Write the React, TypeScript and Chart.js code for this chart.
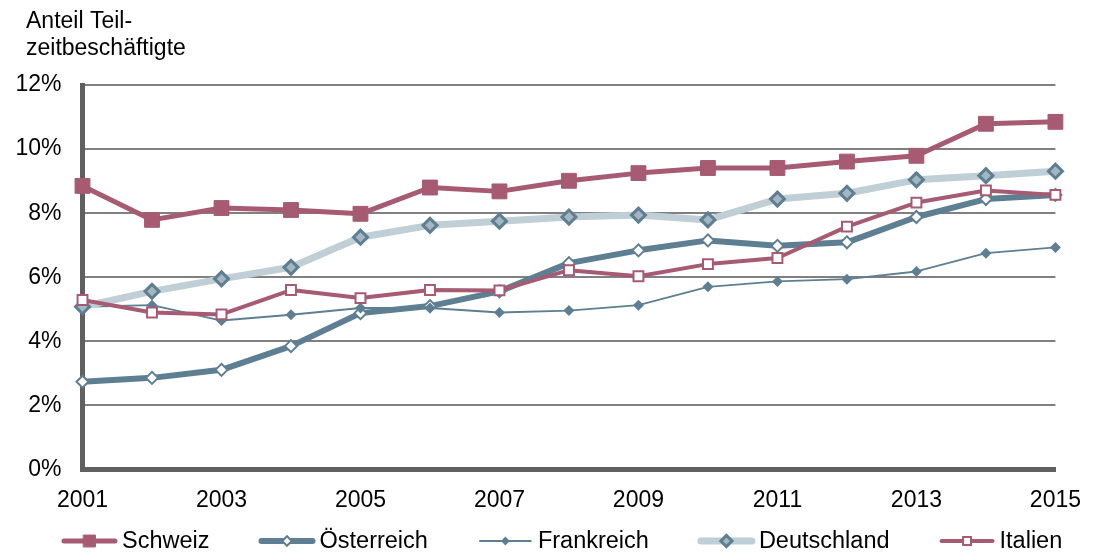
import React, { useEffect, useRef } from "react";
import { Chart, registerables } from "chart.js";

Chart.register(...registerables);

const years = ["2001", "2002", "2003", "2004", "2005", "2006", "2007", "2008", "2009", "2010", "2011", "2012", "2013", "2014", "2015"];
const seriesNames = ["Schweiz", "Österreich", "Frankreich", "Deutschland", "Italien"];
const schweiz = [8.85, 7.79, 8.16, 8.1, 7.98, 8.8, 8.68, 9.01, 9.25, 9.41, 9.41, 9.61, 9.79, 10.79, 10.85];
const oesterreich = [2.74, 2.86, 3.11, 3.85, 4.88, 5.1, 5.56, 6.44, 6.84, 7.15, 6.98, 7.09, 7.88, 8.44, 8.57];
const frankreich = [5.08, 5.13, 4.65, 4.83, 5.04, 5.04, 4.9, 4.96, 5.13, 5.7, 5.87, 5.94, 6.18, 6.75, 6.93];
const deutschland = [5.08, 5.56, 5.95, 6.31, 7.25, 7.62, 7.75, 7.88, 7.94, 7.79, 8.44, 8.62, 9.04, 9.17, 9.31];
const italien = [5.29, 4.9, 4.84, 5.6, 5.35, 5.6, 5.59, 6.22, 6.03, 6.41, 6.6, 7.58, 8.33, 8.71, 8.57];
const titleLines = ["Anteil Teil-", "zeitbeschäftigte"];

const FONT = '"Liberation Sans", Arial, sans-serif';
const MAUVE = "#A65B73";
const SLATE = "#5E7F92";
const LIGHT = "#C0CED6";
const DE_FILL = "#A3B6C2";

function drawMarker(
  ctx: CanvasRenderingContext2D,
  style: string,
  x: number,
  y: number,
  r: number,
  fill: string,
  stroke: string,
  bw: number
) {
  ctx.beginPath();
  if (style === "rect") {
    const s = Math.SQRT1_2 * r;
    ctx.rect(x - s, y - s, 2 * s, 2 * s);
  } else {
    ctx.moveTo(x - r, y);
    ctx.lineTo(x, y - r);
    ctx.lineTo(x + r, y);
    ctx.lineTo(x, y + r);
    ctx.closePath();
  }
  ctx.fillStyle = fill;
  ctx.fill();
  if (bw > 0) {
    ctx.lineWidth = bw;
    ctx.strokeStyle = stroke;
    ctx.stroke();
  }
}

const decorPlugin = {
  id: "decor",
  afterDraw(chart: any) {
    const ctx: CanvasRenderingContext2D = chart.ctx;
    ctx.save();
    ctx.font = `23px ${FONT}`;
    ctx.fillStyle = "#000";
    ctx.textAlign = "left";
    ctx.textBaseline = "alphabetic";
    ctx.fillText(titleLines[0], 26, 28);
    ctx.fillText(titleLines[1], 26, 55);

    // legend
    ctx.font = `23.5px ${FONT}`;
    const y = 541;
    const lineLen = 55;
    let x = 62;
    chart.data.datasets.forEach((ds: any) => {
      ctx.beginPath();
      ctx.lineWidth = ds.borderWidth;
      ctx.strokeStyle = ds.borderColor;
      ctx.lineCap = "round";
      ctx.moveTo(x + 2, y);
      ctx.lineTo(x + lineLen - 2, y);
      ctx.stroke();
      drawMarker(
        ctx,
        ds.pointStyle,
        x + lineLen / 2,
        y,
        ds.pointRadius * 0.8,
        ds.pointBackgroundColor,
        ds.pointBorderColor,
        ds.pointBorderWidth
      );
      ctx.fillStyle = "#000";
      ctx.textBaseline = "middle";
      ctx.fillText(ds.label, x + lineLen + 5, y + 1);
      x += lineLen + 5 + ctx.measureText(ds.label).width + 50;
    });
    ctx.restore();
  },
};

export default function App() {
  const ref = useRef<HTMLCanvasElement>(null);
  useEffect(() => {
    const canvas = ref.current;
    if (!canvas) return;
    const chart = new Chart(canvas, {
      type: "line",
      data: {
        labels: years,
        datasets: [
          {
            label: seriesNames[0],
            data: schweiz,
            borderColor: MAUVE,
            backgroundColor: MAUVE,
            borderWidth: 5,
            pointStyle: "rect",
            pointRadius: 10.5,
            pointBorderWidth: 1,
            pointBackgroundColor: MAUVE,
            pointBorderColor: MAUVE,
            borderJoinStyle: "round",
            order: 5,
          },
          {
            label: seriesNames[1],
            data: oesterreich,
            borderColor: SLATE,
            backgroundColor: SLATE,
            borderWidth: 6,
            pointStyle: "rectRot",
            pointRadius: 6,
            pointBorderWidth: 2,
            pointBackgroundColor: "#FFFFFF",
            pointBorderColor: SLATE,
            borderJoinStyle: "round",
            order: 4,
          },
          {
            label: seriesNames[2],
            data: frankreich,
            borderColor: SLATE,
            backgroundColor: SLATE,
            borderWidth: 1.8,
            pointStyle: "rectRot",
            pointRadius: 5.5,
            pointBorderWidth: 0,
            pointBackgroundColor: SLATE,
            pointBorderColor: SLATE,
            borderJoinStyle: "round",
            order: 3,
          },
          {
            label: seriesNames[3],
            data: deutschland,
            borderColor: LIGHT,
            backgroundColor: LIGHT,
            borderWidth: 7,
            pointStyle: "rectRot",
            pointRadius: 7,
            pointBorderWidth: 3,
            pointBackgroundColor: DE_FILL,
            pointBorderColor: SLATE,
            borderJoinStyle: "round",
            order: 2,
          },
          {
            label: seriesNames[4],
            data: italien,
            borderColor: MAUVE,
            backgroundColor: MAUVE,
            borderWidth: 4,
            pointStyle: "rect",
            pointRadius: 7,
            pointBorderWidth: 2,
            pointBackgroundColor: "#FFFFFF",
            pointBorderColor: MAUVE,
            borderJoinStyle: "round",
            order: 1,
          },
        ] as any,
      },
      options: {
        responsive: false,
        animation: false,
        devicePixelRatio: 1,
        layout: { padding: { left: 8.5, top: 85, right: 37, bottom: 46.5 } },
        plugins: {
          legend: { display: false },
          title: { display: false },
          tooltip: { enabled: false },
        },
        scales: {
          x: {
            type: "category",
            offset: false,
            grid: { display: false, drawTicks: false },
            border: { display: true, color: "#606060", width: 5 },
            ticks: {
              autoSkip: false,
              maxRotation: 0,
              padding: 17,
              color: "#000",
              font: { family: FONT, size: 23 },
              callback: (_v: any, i: number) => (i % 2 === 0 ? years[i] : ""),
            },
            afterFit: (s: any) => {
              s.height = 40;
            },
          },
          y: {
            min: 0,
            max: 12,
            grid: { color: "#808080", lineWidth: 2, drawTicks: false },
            border: { display: true, color: "#606060", width: 5 },
            ticks: {
              stepSize: 2,
              padding: 21,
              color: "#000",
              font: { family: FONT, size: 23 },
              callback: (v: any) => `${v}%`,
            },
            afterFit: (s: any) => {
              s.width = 74;
            },
          },
        },
      } as any,
      plugins: [decorPlugin],
    });
    return () => chart.destroy();
  }, []);
  return (
    <div style={{ position: "fixed", left: 0, top: 0, width: 1098, height: 556, background: "#fff" }}>
      <canvas ref={ref} width={1098} height={556} style={{ display: "block" }} />
    </div>
  );
}
